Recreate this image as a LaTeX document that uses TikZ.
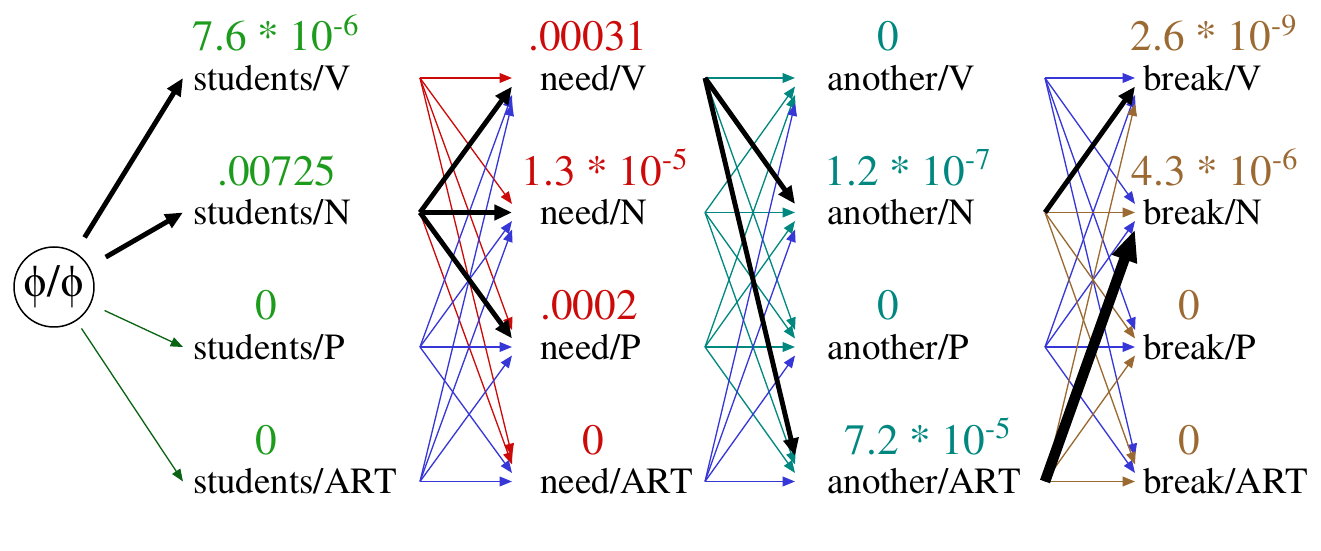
\documentclass[tikz,border=0pt]{standalone}
\usepackage{fontspec}
\setmainfont{TeX Gyre Termes}
\usetikzlibrary{positioning,arrows.meta,calc}

\definecolor{probgreen}{RGB}{28,155,28}
\definecolor{startgreen}{RGB}{10,100,20}
\definecolor{probred}{RGB}{205,10,10}
\definecolor{probteal}{RGB}{0,135,128}
\definecolor{probbrown}{RGB}{155,105,50}
\definecolor{zeroblue}{RGB}{55,55,215}

\begin{document}
\begin{tikzpicture}[>=Stealth,
    tag/.style={anchor=west, inner sep=0pt, font=\fontsize{21}{24}\selectfont},
    prob/.style={anchor=base, inner sep=0pt, font=\fontsize{24.6}{28}\selectfont},
    edge/.style={line width=0.75pt, -{Triangle[length=7pt,width=5.5pt]}},
    best/.style={line width=2.8pt, -{Triangle[length=10pt,width=8.5pt]}},
    bestest/.style={line width=6pt, -{Triangle[length=18pt,width=14pt]}}]
  \useasboundingbox (0,0) rectangle (26.42,11);

  % columns: name / label x / arrow-in x / arrow-out x
  \foreach \col/\lx/\ix/\ox in {students/3.86/3.66/8.40, need/10.80/10.24/14.10,
                                another/16.54/15.90/20.90, break/22.86/22.70/26.00}
    \foreach \r/\pos in {1/V,2/N,3/P,4/ART} {
      \node[tag] (\col-\r) at (\lx, {9.44-(\r-1)*2.69}) {\col/\pos};
      \coordinate (\col-out-\r) at (\ox, {9.44-(\r-1)*2.69});
      \foreach \s in {1,...,4}
        \coordinate (\col-in-\r-\s) at (\ix, {9.44-(\r-1)*2.69+(\r-\s)*0.17});
    }

  % probabilities
  \node[prob, text=probgreen] (students-p1) at (5.52,9.98) {7.6 * 10\textsuperscript{-6}};
  \node[prob, text=probgreen] (students-p2) at (5.54,7.29) {.00725};
  \node[prob, text=probgreen] (students-p3) at (5.32,4.60) {0};
  \node[prob, text=probgreen] (students-p4) at (5.32,1.91) {0};
  \node[prob, text=probred] (need-p1) at (11.76,9.98) {.00031};
  \node[prob, text=probred] (need-p2) at (12.10,7.29) {1.3 * 10\textsuperscript{-5}};
  \node[prob, text=probred] (need-p3) at (11.78,4.60) {.0002};
  \node[prob, text=probred] (need-p4) at (11.86,1.91) {0};
  \node[prob, text=probteal] (another-p1) at (17.76,9.98) {0};
  \node[prob, text=probteal] (another-p2) at (18.16,7.29) {1.2 * 10\textsuperscript{-7}};
  \node[prob, text=probteal] (another-p3) at (17.76,4.60) {0};
  \node[prob, text=probteal] (another-p4) at (18.56,1.91) {7.2 * 10\textsuperscript{-5}};
  \node[prob, text=probbrown] (break-p1) at (24.28,9.98) {2.6 * 10\textsuperscript{-9}};
  \node[prob, text=probbrown] (break-p2) at (24.30,7.29) {4.3 * 10\textsuperscript{-6}};
  \node[prob, text=probbrown] (break-p3) at (23.78,4.60) {0};
  \node[prob, text=probbrown] (break-p4) at (23.78,1.91) {0};

  % start
  \node[draw, circle, minimum size=1.6cm, inner sep=0pt, line width=0.85pt,
        font=\fontsize{26}{28}\selectfont] (start) at (1.08,5.26) {ϕ/ϕ};
  \draw[best, shorten <=0.35cm] (start) -- (students-in-1-1);
  \draw[best, shorten <=0.38cm] (start) -- (students-in-2-2);
  \draw[edge, startgreen, shorten <=0.3cm] (start) -- (students-in-3-3);
  \draw[edge, startgreen, shorten <=0.18cm] (start) -- (students-in-4-4);

  % students -> need
  \foreach \t in {1,...,4} \draw[edge, probred] (students-out-1) -- (need-in-\t-1);
  \draw[edge, probred] (students-out-2) -- (need-in-4-2);
  \foreach \s in {3,4} \foreach \t in {1,...,4}
    \draw[edge, zeroblue] (students-out-\s) -- (need-in-\t-\s);
  \foreach \t in {1,2,3} \draw[best] (students-out-2) -- (need-in-\t-2);

  % need -> another
  \foreach \t in {1,3} \draw[edge, probteal] (need-out-1) -- (another-in-\t-1);
  \foreach \s in {2,3} \foreach \t in {1,...,4}
    \draw[edge, probteal] (need-out-\s) -- (another-in-\t-\s);
  \foreach \t in {1,...,4} \draw[edge, zeroblue] (need-out-4) -- (another-in-\t-4);
  \foreach \t in {2,4} \draw[best] (need-out-1) -- (another-in-\t-1);

  % another -> break
  \foreach \s in {1,3} \foreach \t in {1,...,4}
    \draw[edge, zeroblue] (another-out-\s) -- (break-in-\t-\s);
  \foreach \t in {2,3,4} \draw[edge, probbrown] (another-out-2) -- (break-in-\t-2);
  \foreach \t in {1,3,4} \draw[edge, probbrown] (another-out-4) -- (break-in-\t-4);
  \draw[best] (another-out-2) -- (break-in-1-2);
  \draw[bestest] (another-out-4) -- (break-in-2-4);
\end{tikzpicture}
\end{document}
